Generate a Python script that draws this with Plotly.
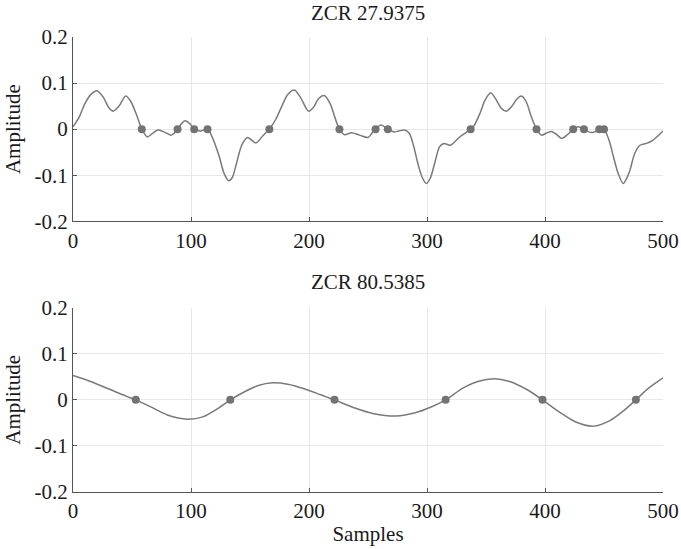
import plotly.graph_objects as go
from plotly.subplots import make_subplots

# Upper signal: sample index and amplitude
top_x = [0, 5, 10, 15, 20.6, 26, 30, 34, 39, 44.7, 49, 54, 58.3, 63, 67, 72, 77, 83, 86, 88.6,
         92, 95, 99, 102.7, 108, 114, 117, 120, 124, 128, 132, 135, 138, 141, 143.7, 148, 155,
         160.7, 166.4, 172, 177, 182, 187.6, 193, 197, 199.7, 204, 208, 213, 218, 222, 225.8,
         230, 236, 242.8, 249.9, 253, 256.4, 261, 266.8, 272, 276, 281, 285, 288.5, 292.3, 296,
         299.4, 303, 306.4, 310.7, 314.4, 319.8, 327.7, 337, 340, 345, 349, 354, 359, 363, 367.3,
         372, 376, 380, 384, 388, 392.8, 397, 401, 405.5, 410, 414, 419, 423.9, 428, 433, 437,
         441, 446, 448, 450, 452, 455, 458, 462, 466.3, 469, 472, 476, 480.5, 486, 491, 496, 500]
top_y = [0.005, 0.025, 0.055, 0.075, 0.083, 0.068, 0.048, 0.039, 0.050, 0.072, 0.060, 0.030, 0.0,
         -0.017, -0.010, -0.002, -0.006, -0.013, -0.008, 0.0, 0.012, 0.018, 0.012, 0.0, -0.004,
         0.0, -0.012, -0.030, -0.060, -0.096, -0.112, -0.105, -0.080, -0.050, -0.031, -0.018,
         -0.030, -0.015, 0.0, 0.022, 0.050, 0.075, 0.085, 0.068, 0.048, 0.039, 0.048, 0.066,
         0.073, 0.055, 0.025, 0.0, -0.012, -0.008, -0.013, -0.018, -0.010, 0.0, 0.009, 0.0,
         -0.006, -0.004, -0.002, -0.009, -0.035, -0.075, -0.105, -0.118, -0.105, -0.075, -0.038,
         -0.031, -0.035, -0.017, 0.0, 0.008, 0.035, 0.062, 0.079, 0.062, 0.045, 0.039, 0.050,
         0.065, 0.072, 0.060, 0.030, 0.0, -0.013, -0.009, -0.005, -0.012, -0.020, -0.012, 0.0,
         0.005, 0.0, -0.006, -0.007, 0.0, 0.002, 0.0, -0.009, -0.030, -0.060, -0.096, -0.118,
         -0.108, -0.089, -0.053, -0.035, -0.031, -0.025, -0.014, -0.004]
top_zc = [58.3, 88.6, 102.7, 114, 166.4, 225.8, 256.4, 266.8, 337, 392.8, 423.9, 433, 446, 450]

# Lower signal
bot_x = [0, 15, 30, 45, 53.2, 65, 80, 97, 110, 122, 133.3, 145, 157, 169, 182, 196, 210, 221.6,
         237, 255, 274, 290, 303, 315.8, 330, 343, 357, 370, 385, 397.9, 412, 426, 441, 455,
         466, 477, 488, 500]
bot_y = [0.053, 0.040, 0.024, 0.008, 0.0, -0.014, -0.033, -0.042, -0.037, -0.020, 0.0, 0.017,
         0.031, 0.037, 0.034, 0.024, 0.011, 0.0, -0.016, -0.030, -0.035, -0.028, -0.016, 0.0,
         0.025, 0.040, 0.046, 0.040, 0.022, 0.0, -0.026, -0.048, -0.057, -0.045, -0.025, 0.0,
         0.026, 0.048]
bot_zc = [53.2, 133.3, 221.6, 315.8, 397.9, 477]

titles = ["ZCR 27.9375", "ZCR 80.5385"]
x_ticks = [0, 100, 200, 300, 400, 500]
y_ticks = [-0.2, -0.1, 0, 0.1, 0.2]
y_tick_text = ["-0.2", "-0.1", "0", "0.1", "0.2"]

LINE = "#7a7a7a"
DOT = "#737373"
FONT = "Liberation Serif"
FS = 21
TXT = "#1a1a1a"

fig = make_subplots(rows=2, cols=1, vertical_spacing=0.19)

for row, (xs, ys, zc) in enumerate([(top_x, top_y, top_zc), (bot_x, bot_y, bot_zc)], start=1):
    fig.add_trace(go.Scatter(x=xs, y=ys, mode="lines",
                             line=dict(color=LINE, width=1.5, shape="spline", smoothing=0.8),
                             showlegend=False, hoverinfo="skip"), row=row, col=1)
    fig.add_trace(go.Scatter(x=zc, y=[0] * len(zc), mode="markers",
                             marker=dict(color=DOT, size=8),
                             showlegend=False), row=row, col=1)

axis_common = dict(showline=True, linecolor="#555555", linewidth=1.2, mirror=False,
                   showgrid=True, gridcolor="#e8e8e8", gridwidth=1, zeroline=False,
                   ticks="inside", ticklen=4, tickcolor="#555555", automargin=False,
                   tickfont=dict(family=FONT, size=FS, color=TXT))

for row in (1, 2):
    fig.update_xaxes(range=[0, 500], tickvals=x_ticks, **axis_common, row=row, col=1)
    fig.update_yaxes(range=[-0.2, 0.2], tickvals=y_ticks, ticktext=y_tick_text,
                     title=dict(text="Amplitude", font=dict(family=FONT, size=FS, color=TXT),
                                standoff=8),
                     **axis_common, row=row, col=1)

fig.update_xaxes(title=dict(text="Samples", font=dict(family=FONT, size=FS, color=TXT),
                            standoff=4), row=2, col=1)

fig.update_layout(
    width=681, height=549,
    margin=dict(l=73, r=18, t=37, b=57),
    plot_bgcolor="white", paper_bgcolor="white",
    font=dict(family=FONT, color=TXT),
    annotations=[
        dict(text=titles[0], x=0.5, y=1.0526, xref="paper", yref="paper",
             xanchor="center", yanchor="middle", showarrow=False,
             font=dict(family=FONT, size=FS, color=TXT)),
        dict(text=titles[1], x=0.5, y=0.4605, xref="paper", yref="paper",
             xanchor="center", yanchor="middle", showarrow=False,
             font=dict(family=FONT, size=FS, color=TXT)),
    ],
)

fig.write_html("out.html")
